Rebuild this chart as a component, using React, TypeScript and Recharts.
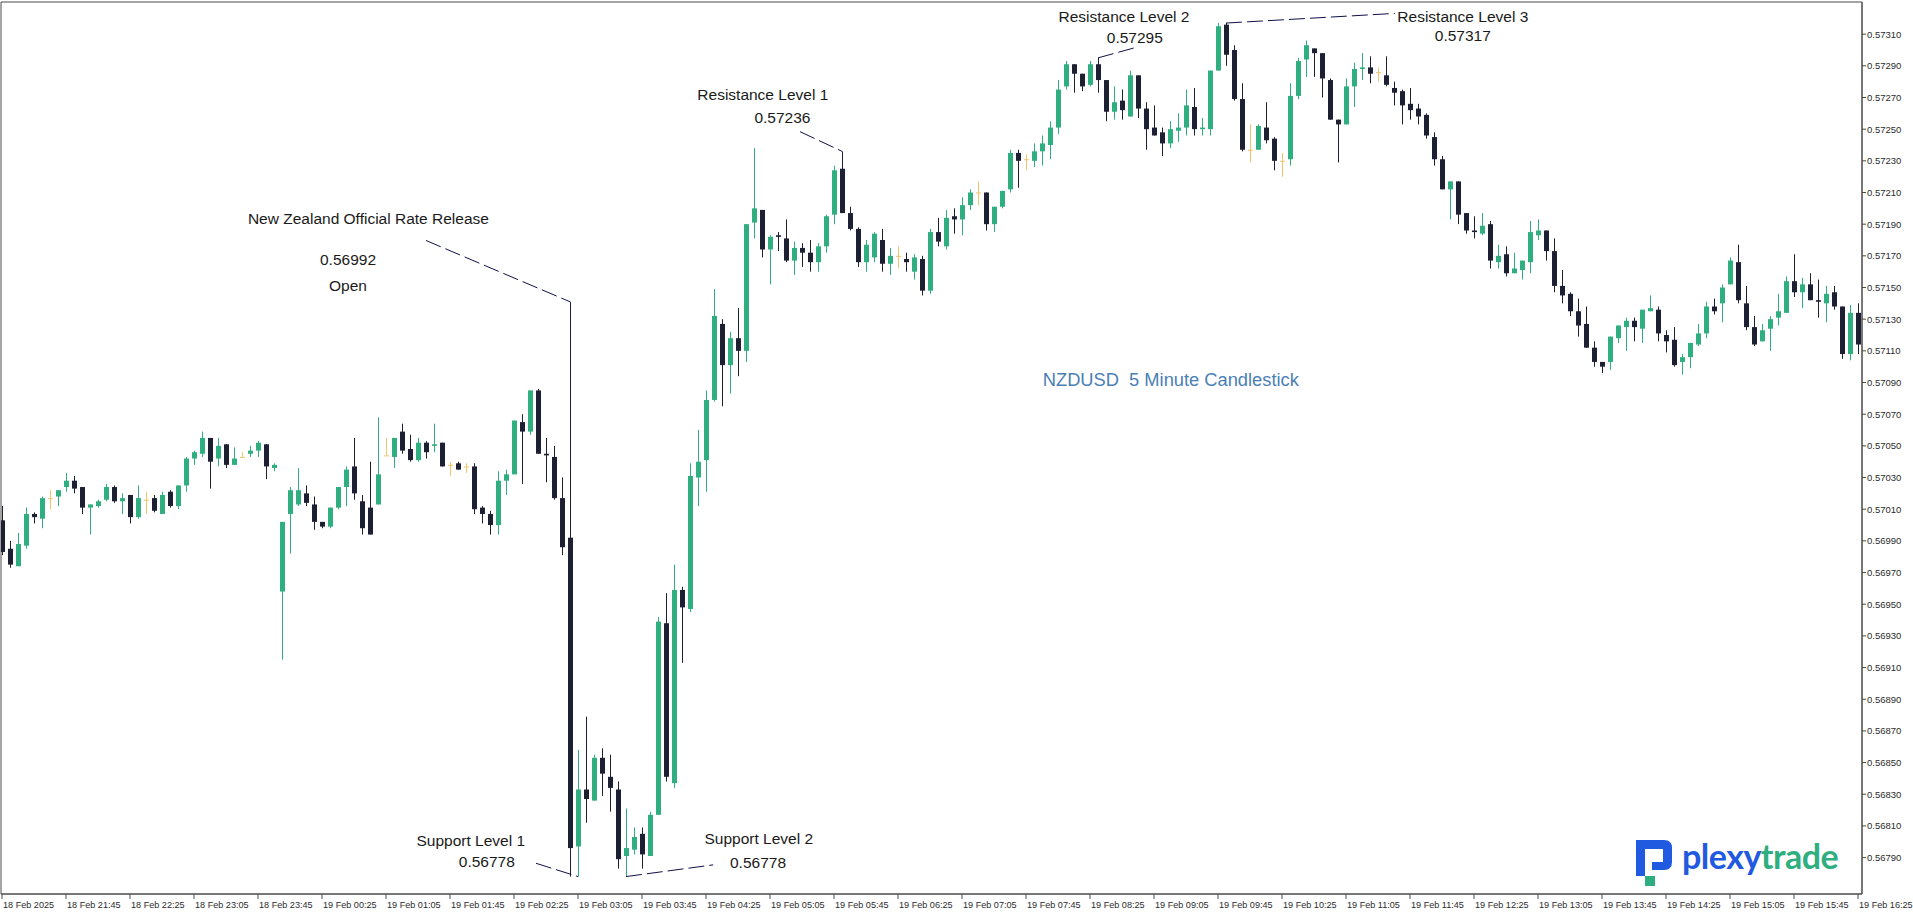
import React from 'react';
import {
  ComposedChart,
  Bar,
  XAxis,
  YAxis,
  ReferenceLine,
  ReferenceDot,
  ReferenceArea,
} from 'recharts';

// NZDUSD 5 minute candles, 18 Feb 21:05 -> 19 Feb 16:25 (one entry per bar)
const opens = [
  0.57003, 0.56985, 0.56974, 0.56987, 0.57007, 0.57004, 0.57017, 0.57018, 0.57024, 0.57028,
  0.57024, 0.57011, 0.57012, 0.57016, 0.57024, 0.57015, 0.57019, 0.57005, 0.57016, 0.57017,
  0.57007, 0.57021, 0.57012, 0.57025, 0.57042, 0.57045, 0.57055, 0.57042, 0.57051, 0.57038,
  0.57043, 0.57045, 0.57047, 0.57051, 0.57036, 0.56958, 0.57007, 0.57013, 0.5702, 0.57013,
  0.57002, 0.56999, 0.57011, 0.57024, 0.57037, 0.57015, 0.57011, 0.57013, 0.57044, 0.57043,
  0.57059, 0.57048, 0.57041, 0.57052, 0.5705, 0.57052, 0.57038, 0.57039, 0.57037, 0.57037,
  0.57011, 0.57007, 0.57, 0.57028, 0.57032, 0.57065, 0.57059, 0.57085, 0.57045, 0.57043,
  0.57017, 0.56992, 0.56797, 0.56833, 0.56826, 0.56853, 0.56841, 0.56833, 0.56791, 0.56795,
  0.56805, 0.56791, 0.56817, 0.56938, 0.56837, 0.56959, 0.56947, 0.5703, 0.57041, 0.57079,
  0.57127, 0.57101, 0.57118, 0.5711, 0.57191, 0.57199, 0.57174, 0.57183, 0.57181, 0.57167,
  0.57175, 0.57172, 0.57166, 0.57176, 0.57196, 0.57225, 0.57197, 0.57187, 0.57166, 0.57169,
  0.5718, 0.57165, 0.5717, 0.57168, 0.5716, 0.57168, 0.57148, 0.57185, 0.57176, 0.57195,
  0.57193, 0.57202, 0.5721, 0.5721, 0.5719, 0.57201, 0.57212, 0.57235, 0.57231, 0.5723,
  0.57236, 0.5724, 0.57251, 0.57277, 0.57291, 0.57285, 0.57278, 0.57291, 0.57281, 0.57261,
  0.57268, 0.57258, 0.57284, 0.57263, 0.57251, 0.57248, 0.57241, 0.57249, 0.57251, 0.57264,
  0.5725, 0.5725, 0.57287, 0.57316, 0.573, 0.57269, 0.57237, 0.57237, 0.57251, 0.57244,
  0.5723, 0.57231, 0.57271, 0.57294, 0.57301, 0.57298, 0.57281, 0.57256, 0.57253, 0.57277,
  0.57288, 0.57289, 0.57286, 0.57284, 0.57276, 0.57274, 0.57266, 0.57263, 0.57259, 0.57245,
  0.57231, 0.57212, 0.57217, 0.57197, 0.57186, 0.57184, 0.5719, 0.57166, 0.57171, 0.57159,
  0.57161, 0.57166, 0.57183, 0.57186, 0.57173, 0.57151, 0.57146, 0.57135, 0.57127, 0.57112,
  0.57103, 0.57103, 0.57118, 0.57125, 0.57129, 0.57124, 0.57135, 0.57136, 0.5712, 0.57117,
  0.57103, 0.57106, 0.57114, 0.57121, 0.57138, 0.5714, 0.57152, 0.57166, 0.5714, 0.57125,
  0.57116, 0.57124, 0.57131, 0.57134, 0.57154, 0.57147, 0.57152, 0.57142, 0.5714, 0.57147,
  0.57138, 0.57108, 0.57134,
];
const highs = [
  0.57012, 0.5699, 0.56995, 0.57011, 0.57008, 0.57018, 0.57022, 0.57022, 0.57033, 0.57031,
  0.57024, 0.57013, 0.57016, 0.57026, 0.57025, 0.5702, 0.57019, 0.57025, 0.57021, 0.57019,
  0.57021, 0.57022, 0.57025, 0.57043, 0.57047, 0.57059, 0.57055, 0.57055, 0.57051, 0.57049,
  0.57046, 0.5705, 0.57053, 0.57051, 0.57039, 0.57002, 0.57024, 0.57036, 0.57025, 0.57018,
  0.57002, 0.57011, 0.57024, 0.57037, 0.57055, 0.57019, 0.5704, 0.57068, 0.57055, 0.57055,
  0.57064, 0.57057, 0.57055, 0.57053, 0.57064, 0.57052, 0.5704, 0.5704, 0.57039, 0.57039,
  0.57012, 0.57009, 0.57034, 0.57035, 0.57066, 0.5707, 0.57085, 0.57086, 0.57055, 0.5705,
  0.5703, 0.57141, 0.56858, 0.56879, 0.56855, 0.56859, 0.56855, 0.56838, 0.56821, 0.56809,
  0.56809, 0.56819, 0.56942, 0.56957, 0.56975, 0.56961, 0.57039, 0.5706, 0.57085, 0.57149,
  0.5713, 0.57122, 0.57137, 0.5719, 0.57238, 0.57199, 0.57183, 0.57185, 0.57193, 0.57179,
  0.57178, 0.5718, 0.57178, 0.57196, 0.57227, 0.57236, 0.57201, 0.57188, 0.5718, 0.57185,
  0.57187, 0.57175, 0.57176, 0.57172, 0.57171, 0.5717, 0.57187, 0.57194, 0.57199, 0.572,
  0.57207, 0.57212, 0.57217, 0.5721, 0.57201, 0.57211, 0.57237, 0.57237, 0.57234, 0.57241,
  0.57246, 0.57255, 0.57281, 0.57293, 0.57291, 0.57285, 0.57293, 0.57295, 0.57281, 0.57277,
  0.57275, 0.57287, 0.57284, 0.57267, 0.57265, 0.57251, 0.57255, 0.5726, 0.57275, 0.57276,
  0.57257, 0.57287, 0.57317, 0.57317, 0.57303, 0.57279, 0.57253, 0.57253, 0.57267, 0.57245,
  0.57235, 0.57279, 0.57295, 0.57306, 0.57301, 0.57298, 0.57282, 0.57256, 0.57282, 0.57292,
  0.57298, 0.57296, 0.57289, 0.57296, 0.5728, 0.57275, 0.57276, 0.57266, 0.5726, 0.57248,
  0.57233, 0.57217, 0.57217, 0.57197, 0.57195, 0.57197, 0.57192, 0.57177, 0.57176, 0.57172,
  0.57167, 0.57192, 0.57193, 0.57186, 0.57181, 0.57161, 0.57147, 0.57143, 0.57138, 0.57116,
  0.57103, 0.57119, 0.57126, 0.57131, 0.57131, 0.57136, 0.57145, 0.57138, 0.57123, 0.57125,
  0.57108, 0.57115, 0.57127, 0.57141, 0.57143, 0.57152, 0.57169, 0.57177, 0.57151, 0.57132,
  0.57127, 0.57132, 0.57146, 0.57157, 0.57171, 0.57156, 0.57159, 0.57155, 0.57151, 0.57151,
  0.57138, 0.57139, 0.5714,
];
const lows = [
  0.56981, 0.56973, 0.56974, 0.56985, 0.57001, 0.56998, 0.5701, 0.57012, 0.57021, 0.5702,
  0.57007, 0.56994, 0.57011, 0.57015, 0.57014, 0.57007, 0.57001, 0.57004, 0.57007, 0.57008,
  0.57007, 0.57011, 0.5701, 0.57021, 0.57038, 0.57043, 0.57023, 0.57037, 0.57036, 0.57038,
  0.57043, 0.57043, 0.57043, 0.57029, 0.57034, 0.56915, 0.56982, 0.57012, 0.57012, 0.56997,
  0.56998, 0.56998, 0.5701, 0.57012, 0.57016, 0.56994, 0.56994, 0.57013, 0.57044, 0.57036,
  0.57045, 0.5704, 0.5704, 0.57042, 0.57046, 0.57037, 0.57031, 0.57035, 0.57033, 0.57007,
  0.57001, 0.56994, 0.56994, 0.57019, 0.57032, 0.57026, 0.57057, 0.57045, 0.57027, 0.57016,
  0.56981, 0.56778, 0.56778, 0.56812, 0.56826, 0.56829, 0.56819, 0.56783, 0.56778, 0.56792,
  0.56783, 0.56791, 0.56817, 0.56838, 0.56834, 0.56913, 0.56945, 0.57012, 0.57021, 0.57078,
  0.57075, 0.57083, 0.57094, 0.57103, 0.57181, 0.57169, 0.57152, 0.57173, 0.57166, 0.57158,
  0.57163, 0.5716, 0.5716, 0.57172, 0.5719, 0.57197, 0.57186, 0.57163, 0.5716, 0.57166,
  0.5716, 0.57158, 0.57162, 0.5716, 0.57155, 0.57145, 0.57146, 0.57176, 0.57174, 0.57184,
  0.57183, 0.57199, 0.57202, 0.57186, 0.57185, 0.572, 0.5721, 0.57213, 0.57224, 0.57226,
  0.57227, 0.57231, 0.57247, 0.57275, 0.57273, 0.57274, 0.57277, 0.57273, 0.57255, 0.57256,
  0.57256, 0.57258, 0.57257, 0.57237, 0.57246, 0.57233, 0.57238, 0.57242, 0.57246, 0.57246,
  0.57246, 0.57246, 0.57287, 0.5729, 0.57268, 0.57236, 0.57229, 0.57237, 0.57241, 0.57224,
  0.5722, 0.57227, 0.57269, 0.57283, 0.57283, 0.5727, 0.57256, 0.57229, 0.57253, 0.57264,
  0.57281, 0.57279, 0.5728, 0.57277, 0.57265, 0.57253, 0.57256, 0.57253, 0.57244, 0.57227,
  0.57212, 0.57193, 0.5719, 0.57184, 0.57181, 0.57183, 0.57162, 0.57162, 0.57157, 0.57159,
  0.57155, 0.57159, 0.5718, 0.57167, 0.57147, 0.5714, 0.57132, 0.57119, 0.57112, 0.571,
  0.57096, 0.57098, 0.57115, 0.5711, 0.57116, 0.57115, 0.57135, 0.57116, 0.57109, 0.571,
  0.57095, 0.57099, 0.57113, 0.57118, 0.57133, 0.57128, 0.57152, 0.5714, 0.57123, 0.57113,
  0.57116, 0.5711, 0.57126, 0.57134, 0.57144, 0.57137, 0.57142, 0.57131, 0.57128, 0.57136,
  0.57105, 0.57104, 0.57108,
];
const closes = [
  0.56983, 0.56975, 0.56988, 0.57007, 0.57005, 0.57017, 0.57017, 0.57022, 0.57028, 0.57023,
  0.57011, 0.57013, 0.57015, 0.57024, 0.57015, 0.57017, 0.57005, 0.57017, 0.57016, 0.57009,
  0.57019, 0.57012, 0.57025, 0.57042, 0.57046, 0.57055, 0.5704, 0.5705, 0.57038, 0.57042,
  0.57043, 0.57047, 0.57052, 0.57037, 0.57038, 0.57002, 0.57022, 0.57022, 0.57014, 0.57002,
  0.56999, 0.57011, 0.57024, 0.57035, 0.5702, 0.56998, 0.56994, 0.57032, 0.57044, 0.57055,
  0.57047, 0.57041, 0.57052, 0.57046, 0.57051, 0.57037, 0.57038, 0.57035, 0.57037, 0.5701,
  0.57007, 0.57, 0.57028, 0.57032, 0.57066, 0.57059, 0.57085, 0.57045, 0.57044, 0.57017,
  0.56986, 0.56796, 0.56833, 0.56827, 0.56853, 0.56843, 0.56834, 0.56789, 0.56796, 0.56803,
  0.56792, 0.56817, 0.56939, 0.56841, 0.56959, 0.56948, 0.57031, 0.5704, 0.57079, 0.57132,
  0.57101, 0.57118, 0.5711, 0.5719, 0.572, 0.57174, 0.57182, 0.57182, 0.57167, 0.57175,
  0.57172, 0.57166, 0.57176, 0.57195, 0.57224, 0.57197, 0.57187, 0.57166, 0.57177, 0.57184,
  0.57165, 0.5717, 0.5717, 0.57166, 0.57169, 0.57148, 0.57185, 0.57179, 0.57194, 0.57193,
  0.57202, 0.5721, 0.5721, 0.5719, 0.57201, 0.57211, 0.57235, 0.5723, 0.57231, 0.57236,
  0.57241, 0.57251, 0.57275, 0.57291, 0.57285, 0.57277, 0.57291, 0.57281, 0.57261, 0.57267,
  0.57262, 0.57284, 0.57263, 0.5725, 0.57246, 0.57241, 0.5725, 0.57251, 0.57265, 0.5725,
  0.57251, 0.57287, 0.57315, 0.57297, 0.57269, 0.57237, 0.57237, 0.57252, 0.57243, 0.5723,
  0.5723, 0.57271, 0.57293, 0.57303, 0.57298, 0.57282, 0.57256, 0.57253, 0.57277, 0.57288,
  0.57289, 0.57285, 0.57286, 0.57278, 0.57273, 0.57265, 0.57262, 0.57258, 0.57246, 0.57231,
  0.57212, 0.57217, 0.57196, 0.57186, 0.57185, 0.57189, 0.57167, 0.5717, 0.57159, 0.57162,
  0.57167, 0.57185, 0.57186, 0.57173, 0.57151, 0.57145, 0.57135, 0.57126, 0.57112, 0.57103,
  0.571, 0.57119, 0.57126, 0.57129, 0.57125, 0.57136, 0.57137, 0.57121, 0.57116, 0.57101,
  0.57106, 0.57115, 0.57121, 0.57138, 0.57135, 0.5715, 0.57167, 0.57142, 0.57125, 0.57114,
  0.57123, 0.5713, 0.57135, 0.57154, 0.57147, 0.57152, 0.57142, 0.57141, 0.57146, 0.57138,
  0.57108, 0.57134, 0.57114,
];

// time axis: a label every 8 bars (40 minutes)
const xTickBars = [
  0, 8, 16, 24, 32, 40, 48, 56, 64, 72, 80, 88, 96, 104, 112, 120, 128, 136, 144, 152,
  160, 168, 176, 184, 192, 200, 208, 216, 224, 232,
];
const xTickLabels = [
  '18 Feb 2025', '18 Feb 21:45', '18 Feb 22:25', '18 Feb 23:05', '18 Feb 23:45',
  '19 Feb 00:25', '19 Feb 01:05', '19 Feb 01:45', '19 Feb 02:25', '19 Feb 03:05',
  '19 Feb 03:45', '19 Feb 04:25', '19 Feb 05:05', '19 Feb 05:45', '19 Feb 06:25',
  '19 Feb 07:05', '19 Feb 07:45', '19 Feb 08:25', '19 Feb 09:05', '19 Feb 09:45',
  '19 Feb 10:25', '19 Feb 11:05', '19 Feb 11:45', '19 Feb 12:25', '19 Feb 13:05',
  '19 Feb 13:45', '19 Feb 14:25', '19 Feb 15:05', '19 Feb 15:45', '19 Feb 16:25',
];
const priceTicks = [
  0.5679, 0.5681, 0.5683, 0.5685, 0.5687, 0.5689, 0.5691, 0.5693, 0.5695, 0.5697,
  0.5699, 0.5701, 0.5703, 0.5705, 0.5707, 0.5709, 0.5711, 0.5713, 0.5715, 0.5717,
  0.5719, 0.5721, 0.5723, 0.5725, 0.5727, 0.5729, 0.5731,
];

// annotation texts, anchored at (bar index, price)
const notes = [
  { text: 'New Zealand Official Rate Release', bar: 45.8, price: 0.571936 },
  { text: '0.56992', bar: 43.25, price: 0.571674 },
  { text: 'Open', bar: 43.25, price: 0.571512 },
  { text: 'Resistance Level 1', bar: 95.1, price: 0.572722 },
  { text: '0.57236', bar: 97.55, price: 0.572576 },
  { text: 'Resistance Level 2', bar: 140.25, price: 0.573209 },
  { text: '0.57295', bar: 141.6, price: 0.573077 },
  { text: 'Resistance Level 3', bar: 182.6, price: 0.573209 },
  { text: '0.57317', bar: 182.6, price: 0.573089 },
  { text: 'Support Level 1', bar: 58.6, price: 0.568005 },
  { text: '0.56778', bar: 60.6, price: 0.567874 },
  { text: 'Support Level 2', bar: 94.6, price: 0.56802 },
  { text: '0.56778', bar: 94.5, price: 0.567866 },
];
// dashed pointer lines from the notes to the bars
const pointers = [
  [{ x: 53, y: 0.571797 }, { x: 71, y: 0.57141 }],
  [{ x: 99.75, y: 0.572484 }, { x: 105, y: 0.57236 }],
  [{ x: 137, y: 0.57295 }, { x: 141.8, y: 0.573017 }],
  [{ x: 153, y: 0.57317 }, { x: 174.1, y: 0.573231 }],
  [{ x: 66.75, y: 0.567864 }, { x: 72, y: 0.56778 }],
  [{ x: 78, y: 0.56778 }, { x: 88.9, y: 0.567854 }],
];

const UP = '#2fae80';
const DOWN = '#1d2033';
const FLAT = '#f0c46c';
const FONT = '"Liberation Sans", Arial, sans-serif';
const X_DOMAIN: [number, number] = [-0.125, 232.5];
const Y_DOMAIN: [number, number] = [0.56767, 0.573303];

const candles = opens.map((open, i) => ({
  i,
  open,
  high: highs[i],
  low: lows[i],
  close: closes[i],
  range: [lows[i], highs[i]],
}));

function Candle(props: any) {
  const { x, y, width, height, payload } = props;
  if (!payload || x == null || y == null) return null;
  const { open, close, high, low } = payload;
  const top = Math.min(y, y + height);
  const h = Math.abs(height);
  const k = high > low ? h / (high - low) : 0;
  const yOpen = top + (high - open) * k;
  const yClose = top + (high - close) * k;
  const cx = Math.round(x + width / 2);
  const color = close > open ? UP : close < open ? DOWN : FLAT;
  const bodyTop = Math.min(yOpen, yClose);
  const bodyH = Math.max(Math.abs(yOpen - yClose), 1);
  return (
    <g>
      <line x1={cx + 0.5} x2={cx + 0.5} y1={top} y2={top + Math.max(h, 1)} stroke={color} strokeWidth={1} />
      <rect x={cx - 2} y={bodyTop} width={5} height={bodyH} fill={color} />
    </g>
  );
}

function TimeTick(props: any) {
  const { x, y, payload } = props;
  const label = xTickLabels[xTickBars.indexOf(payload.value)];
  return (
    <text x={x + 1} y={y + 7} fontSize={9.1} fill="#2b2b2b" fontFamily={FONT} textAnchor="start">
      {label}
    </text>
  );
}

function Logo() {
  return (
    <svg width={210} height={50} style={{ position: 'absolute', left: 1630, top: 836 }}>
      <path
        d="M6 4 H34 Q42 4 42 12 V26 Q42 34 34 34 H22 V26 H33 V13 H15 V40 H6 Z"
        fill="#1f5ae0"
      />
      <rect x={15} y={40} width={10} height={10} fill="#2fae80" />
      <text x={52} y={33} fontSize={34} fontWeight={700} fontFamily="Lato, 'Open Sans', sans-serif" letterSpacing={-0.5}>
        <tspan fill="#1f5ae0">plexy</tspan>
        <tspan fill="#2fae80">trade</tspan>
      </text>
    </svg>
  );
}

export default function App() {
  return (
    <div style={{ position: 'absolute', left: 0, top: 0, width: 1913, height: 913, background: '#fff' }}>
      <ComposedChart
        width={1913}
        height={913}
        data={candles}
        margin={{ top: 2, right: 0, bottom: 0, left: 1 }}
      >
        <XAxis
          dataKey="i"
          type="number"
          domain={X_DOMAIN}
          allowDataOverflow
          ticks={xTickBars}
          interval={0}
          height={19}
          tickSize={5}
          tick={<TimeTick />}
          axisLine={{ stroke: '#4a4a4a' }}
          tickLine={{ stroke: '#4a4a4a' }}
        />
        <YAxis
          orientation="right"
          type="number"
          domain={Y_DOMAIN}
          allowDataOverflow
          ticks={priceTicks}
          interval={0}
          width={51}
          tickSize={4}
          tickMargin={1}
          tickFormatter={(v: number) => v.toFixed(5)}
          tick={{ fontSize: 9.5, fill: '#2b2b2b', fontFamily: FONT }}
          axisLine={{ stroke: '#4a4a4a' }}
          tickLine={{ stroke: '#4a4a4a' }}
        />
        <ReferenceArea
          x1={X_DOMAIN[0]}
          x2={X_DOMAIN[1]}
          y1={Y_DOMAIN[0]}
          y2={Y_DOMAIN[1]}
          fill="none"
          stroke="#4a4a4a"
          ifOverflow="visible"
        />
        <Bar
          dataKey="range"
          barSize={5}
          isAnimationActive={false}
          shape={(p: any) => <Candle {...p} />}
        />
        {pointers.map((seg, k) => (
          <ReferenceLine
            key={`ptr-${k}`}
            segment={seg}
            stroke="#101048"
            strokeDasharray="16 5"
            ifOverflow="visible"
          />
        ))}
        {notes.map((n, k) => (
          <ReferenceDot
            key={`note-${k}`}
            x={n.bar}
            y={n.price}
            r={1}
            fill="none"
            stroke="none"
            ifOverflow="visible"
            label={{ value: n.text, position: 'center', fill: '#1a1a1a', fontSize: 15.5, fontFamily: FONT }}
          />
        ))}
        <ReferenceDot
          x={146.1}
          y={0.570916}
          r={1}
          fill="none"
          stroke="none"
          ifOverflow="visible"
          label={{
            value: 'NZDUSD\u00a0 5 Minute Candlestick',
            position: 'center',
            fill: '#4a7fb5',
            fontSize: 18.3,
            fontFamily: FONT,
          }}
        />
      </ComposedChart>
      <Logo />
    </div>
  );
}
